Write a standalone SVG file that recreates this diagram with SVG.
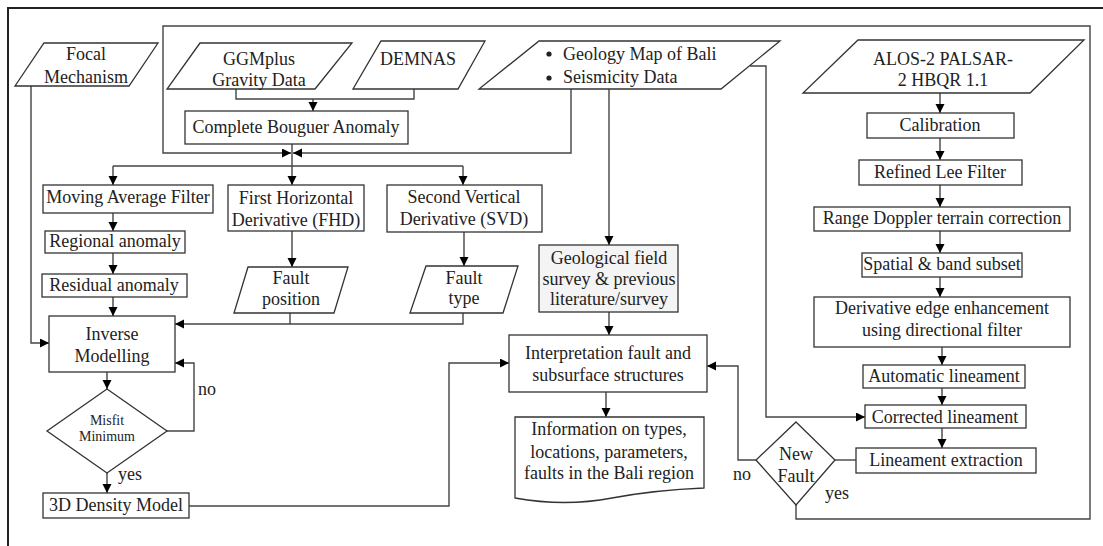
<svg xmlns="http://www.w3.org/2000/svg" width="1103" height="546" viewBox="0 0 1103 546">
<defs>
<marker id="ah" markerUnits="userSpaceOnUse" markerWidth="10" markerHeight="10" refX="9" refY="4.5" orient="auto"><path d="M0,0 L9,4.5 L0,9 z" fill="#000"/></marker>
<style>
.b{fill:#fff;stroke:#333;stroke-width:1.3}
.g{fill:#f4f4f4;stroke:#333;stroke-width:1.3}
.c{fill:none;stroke:#444;stroke-width:1.4}
.a{marker-end:url(#ah)}
text{font-family:"Liberation Serif","Times New Roman",serif;font-size:18px;fill:#222;text-anchor:middle}
.s{font-size:14px}
.l{text-anchor:start}
</style>
</defs>
<rect width="1103" height="546" fill="#fff"/>
<path d="M8,546 V8 H1103" fill="none" stroke="#222" stroke-width="2"/>

<g id="connectors">
<path class="c" d="M796,505 V519 H1090 V26 H163 V153 H291" marker-end="url(#ah)"/>
<path class="c a" d="M571,89 V153 H293"/>
<path class="c" d="M236,89 V99 H414 V89"/>
<path class="c a" d="M313,99 V111"/>
<path class="c" d="M292,144 V166"/>
<path class="c a" d="M292,166 V185"/>
<path class="c" d="M113,166 H463"/>
<path class="c a" d="M113,166 V185"/>
<path class="c a" d="M463,166 V185"/>
<path class="c a" d="M31,86 V343 H49"/>
<path class="c a" d="M609,89 V245"/>
<path class="c a" d="M750,66 H766 V417 H865"/>
<path class="c a" d="M113,213 V231"/>
<path class="c a" d="M113,253 V274"/>
<path class="c a" d="M113,297 V316"/>
<path class="c a" d="M292,231 V267"/>
<path class="c a" d="M464,232 V266"/>
<path class="c" d="M290,313 V324"/>
<path class="c a" d="M463,313 V324 H175"/>
<path class="c a" d="M107,372 V389"/>
<path class="c a" d="M167,431 H194 V363 H175"/>
<path class="c a" d="M107,473 V493"/>
<path class="c a" d="M189,506 H449 V363 H509"/>
<path class="c a" d="M609,312 V335"/>
<path class="c a" d="M606,392 V417"/>
<path class="c a" d="M940,93 V113"/>
<path class="c a" d="M940,138 V160"/>
<path class="c a" d="M940,185 V207"/>
<path class="c a" d="M940,231 V253"/>
<path class="c a" d="M940,277 V297"/>
<path class="c a" d="M942,347 V365"/>
<path class="c a" d="M942,388 V405"/>
<path class="c a" d="M942,428 V448"/>
<path class="c" d="M856,460 H835"/>
<path class="c a" d="M756,460 H738 V366 H707"/>
</g>

<g id="focal"><path class="b" d="M44,43 H158 L129,86 H15 Z"/><text x="86" y="60">Focal</text><text x="86" y="83">Mechanism</text></g>
<g id="ggmplus"><path class="b" d="M200,43 H352 L315,89 H167 Z"/><text x="259" y="65">GGMplus</text><text x="259" y="86">Gravity Data</text></g>
<g id="demnas"><path class="b" d="M381,41 H485 L458,89 H353 Z"/><text x="418" y="65">DEMNAS</text></g>
<g id="geology"><path class="b" d="M539,41 H780 L721,89 H479 Z"/><circle cx="549" cy="54" r="2.6" fill="#222"/><circle cx="549" cy="78" r="2.6" fill="#222"/><text class="l" x="563" y="60">Geology Map of Bali</text><text class="l" x="563" y="83">Seismicity Data</text></g>
<g id="cba"><rect class="b" x="185" y="111" width="223" height="33"/><text x="296" y="133">Complete Bouguer Anomaly</text></g>
<g id="maf"><rect class="b" x="43" y="185" width="170" height="28"/><text x="128" y="203">Moving Average Filter</text></g>
<g id="fhd"><rect class="b" x="228" y="185" width="136" height="46"/><text x="296" y="204">First Horizontal</text><text x="296" y="226">Derivative (FHD)</text></g>
<g id="svd"><rect class="b" x="387" y="185" width="155" height="47"/><text x="464" y="203">Second Vertical</text><text x="464" y="225">Derivative (SVD)</text></g>
<g id="regional"><rect class="b" x="45" y="231" width="140" height="22"/><text x="115" y="247">Regional anomaly</text></g>
<g id="residual"><rect class="b" x="42" y="274" width="145" height="23"/><text x="114" y="291">Residual anomaly</text></g>
<g id="faultpos"><path class="b" d="M248,267 H348 L334,313 H234 Z"/><text x="291" y="284">Fault</text><text x="291" y="305">position</text></g>
<g id="faulttype"><path class="b" d="M426,266 H518 L503,313 H410 Z"/><text x="464" y="284">Fault</text><text x="464" y="304">type</text></g>
<g id="inverse"><rect class="b" x="49" y="316" width="126" height="56"/><text x="112" y="340">Inverse</text><text x="112" y="362">Modelling</text></g>
<g id="misfit"><path class="b" d="M107,389 L167,431 L107,473 L47,431 Z"/><text class="s" x="107" y="425">Misfit</text><text class="s" x="107" y="441">Minimum</text></g>
<text class="l" x="198" y="395">no</text>
<text class="l" x="118" y="480">yes</text>
<g id="density"><rect class="b" x="43" y="493" width="146" height="25"/><text x="116" y="511">3D Density Model</text></g>
<g id="field"><rect class="g" x="539" y="245" width="139" height="67"/><text x="609" y="264">Geological field</text><text x="609" y="285">survey &amp; previous</text><text x="609" y="305">literature/survey</text></g>
<g id="interp"><rect class="b" x="509" y="335" width="198" height="57"/><text x="608" y="359">Interpretation fault and</text><text x="608" y="381">subsurface structures</text></g>
<g id="info"><path class="b" d="M515,417 H704 V488 Q655,490 612,498 Q565,507 515,498 Z"/><text x="609" y="435">Information on types,</text><text x="609" y="458">locations, parameters,</text><text x="609" y="479">faults in the Bali region</text></g>
<g id="alos"><path class="b" d="M858,40 H1084 L1030,93 H803 Z"/><text x="943" y="65">ALOS-2 PALSAR-</text><text x="943" y="86">2 HBQR 1.1</text></g>
<g id="calib"><rect class="b" x="867" y="113" width="147" height="25"/><text x="940" y="131">Calibration</text></g>
<g id="lee"><rect class="b" x="859" y="160" width="163" height="25"/><text x="940" y="178">Refined Lee Filter</text></g>
<g id="rdtc"><rect class="b" x="814" y="207" width="256" height="24"/><text x="942" y="224">Range Doppler terrain correction</text></g>
<g id="subset"><rect class="b" x="862" y="253" width="160" height="24"/><text x="942" y="270">Spatial &amp; band subset</text></g>
<g id="edge"><rect class="b" x="814" y="297" width="256" height="50"/><text x="942" y="314">Derivative edge enhancement</text><text x="942" y="336">using directional filter</text></g>
<g id="auto"><rect class="b" x="863" y="365" width="162" height="23"/><text x="944" y="382">Automatic lineament</text></g>
<g id="corrected"><rect class="b" x="865" y="405" width="161" height="23"/><text x="945" y="423">Corrected lineament</text></g>
<g id="extract"><rect class="b" x="856" y="448" width="180" height="25"/><text x="946" y="466">Lineament extraction</text></g>
<g id="newfault"><path class="b" d="M796,422 L835,460 L796,505 L756,460 Z"/><text x="796" y="460">New</text><text x="796" y="482">Fault</text></g>
<text class="l" x="825" y="499">yes</text>
<text class="l" x="733" y="480">no</text>
</svg>
